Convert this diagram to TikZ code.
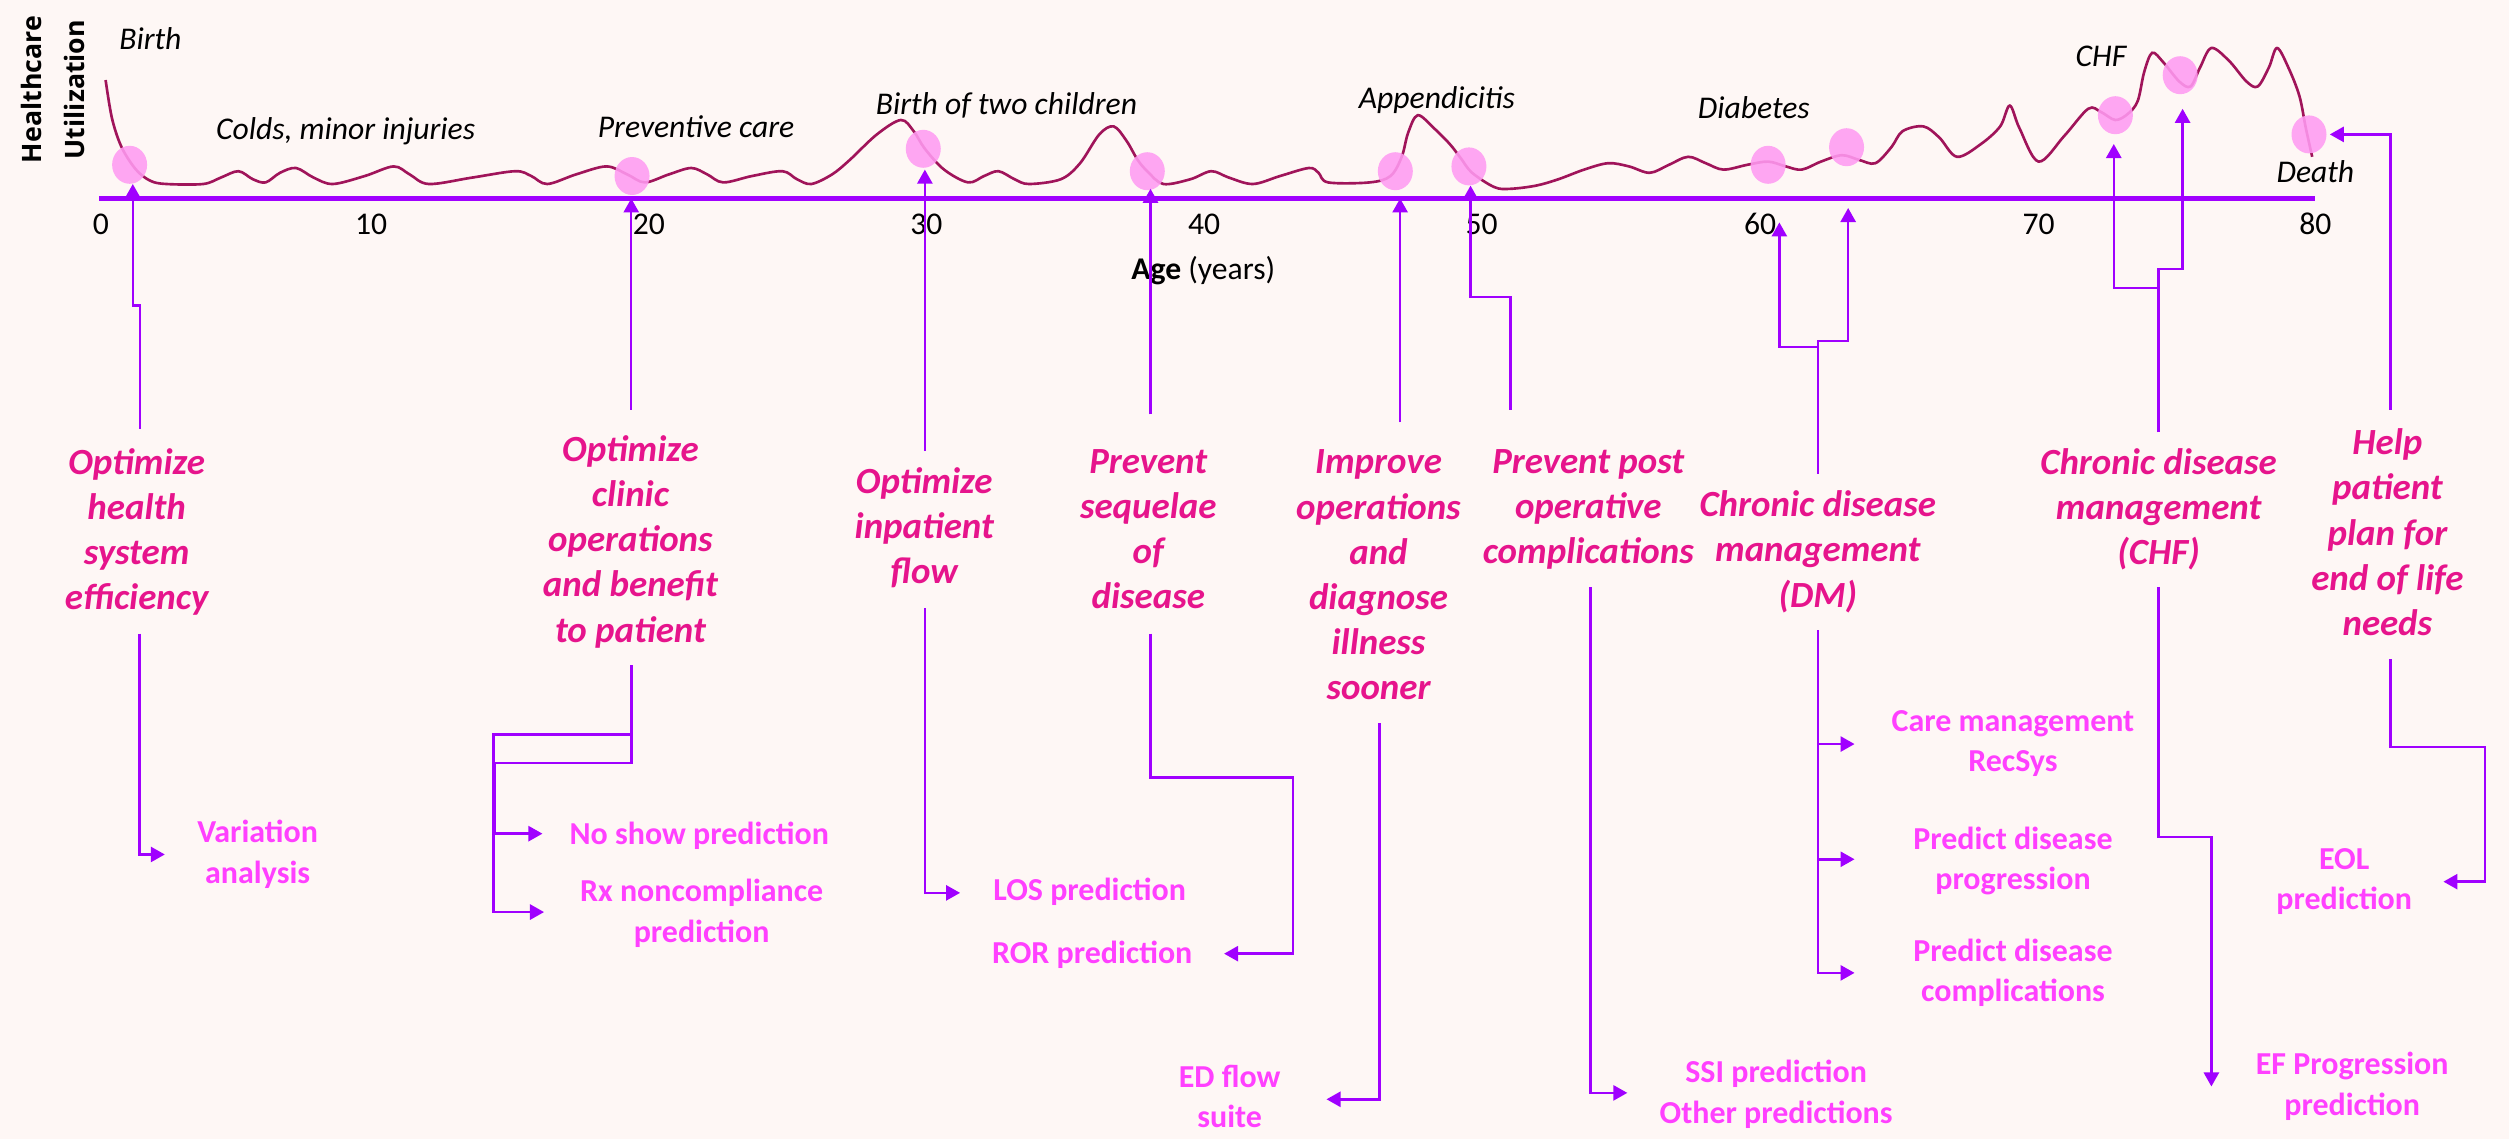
\documentclass[tikz,border=0pt]{standalone}
\usepackage{fontspec}
\setmainfont{Carlito}
\newfontfamily\hufont{Open Sans}
\usetikzlibrary{arrows.meta,shapes.geometric}
\definecolor{bgc}{HTML}{FEF7F5}
\definecolor{purp}{HTML}{A000FF}
\definecolor{mainpink}{HTML}{E6148C}
\definecolor{lightmag}{HTML}{FF40FF}
\definecolor{curvec}{HTML}{A0145A}
\definecolor{dotc}{HTML}{FF9BF2}
\begin{document}
\begin{tikzpicture}[x=0.016cm,y=-0.016cm,
  goal/.style={align=center, text=mainpink, inner sep=0pt,
    font=\fontsize{10.5}{12.85}\selectfont\bfseries\itshape,
    execute at begin node=\strut, execute at end node=\strut},
  tool/.style={align=center, text=lightmag, inner sep=0pt,
    font=\fontsize{9.1}{11.5}\selectfont\bfseries,
    execute at begin node=\strut, execute at end node=\strut},
  event/.style={inner sep=0pt, font=\fontsize{9}{11}\selectfont\itshape},
  tick/.style={inner sep=0pt, font=\fontsize{9}{11}\selectfont},
  conn/.style={draw=purp, line width=0.7pt},
  arr/.style={conn, -{Triangle[width=4.3pt,length=4pt]}},
  dot/.style={ellipse, fill=dotc, fill opacity=0.88, draw=none, inner sep=0pt,
    minimum width=0.35cm, minimum height=0.38cm}
]
\fill[bgc] (0,0) rectangle (1568,712);
\useasboundingbox (0,0) rectangle (1568,712);

% utilization curve
\draw[curvec, line width=0.75pt] plot[smooth, tension=0.55] coordinates {
(66,50) (70,74) (76,92) (85,106) (94,113) (104,115) (127,115) (138,111) (149,107) (158,112) (166,114) (175,108) (185,105) (196,111) (208,115) (228,110) (246,104) (256,109) (268,115) (295,111) (322,107) (332,110) (342,115) (360,109) (379,104) (392,109) (403,114) (418,109) (432,105) (442,109) (452,114) (470,110) (489,107) (498,112) (507,115) (520,109) (531,100) (548,84) (563,75) (571,82) (578,93) (590,106) (605,114) (615,110) (624,107) (634,112) (643,115) (663,112) (675,102) (687,84) (696,79) (704,88) (711,100) (717,107) (727,115) (744,112) (757,107) (768,111) (783,115) (800,110) (818,105) (824,108) (830,114) (856,114) (869,110) (876,98) (880,83) (886,72) (896,80) (906,90) (913,99) (920,108) (934,117) (944,118) (960,116) (974,112) (990,106) (1005,102) (1018,104) (1031,108) (1043,103) (1055,98) (1066,102) (1077,106) (1092,103) (1105,101) (1116,104) (1126,106) (1138,101) (1151,97) (1162,100) (1172,102) (1182,92) (1189,82) (1202,79) (1212,86) (1223,98) (1238,90) (1250,79) (1256,66) (1262,80) (1274,101) (1290,85) (1305,68) (1313,70) (1322,75) (1330,71) (1336,63) (1340,45) (1345,33) (1352,39) (1362,51) (1369,54) (1375,42) (1382,30) (1393,38) (1404,51) (1411,54) (1418,42) (1423,30) (1430,42) (1437,60) (1441,80) (1445,98)};

% highlight dots
\foreach \n/\x/\y in {d1/81/103, d2/395/110, d3/577/93, d4/717/107, d5/872/107, d6/918/104, d7/1105/103, d8/1154/92, d9/1322/72, d10/1362.5/47, d11/1443/84}
  \node[dot] (\n) at (\x,\y) {};

% axis
\coordinate (ax0) at (62,124);
\coordinate (ax80) at (1447,124);
\draw[purp, line width=1.3pt] (ax0) -- (ax80);
\foreach \v/\x in {0/63, 10/232, 20/405.5, 30/579, 40/752.5, 50/926, 60/1100, 70/1274, 80/1447}
  \node[tick] (tk\v) at (\x,140) {\v};
\node[tick] (agel) at (752,169) {\textbf{Age} (years)};
\node[rotate=90, align=center, inner sep=0pt,
  font=\fontsize{7.6}{12.2}\selectfont\hufont\bfseries] (hu) at (33,56) {Healthcare\\Utilization};

% event annotations
\node[event] (e1) at (94,24) {Birth};
\node[event] (e2) at (216,82) {Colds, minor injuries};
\node[event] (e3) at (435,79) {Preventive care};
\node[event] (e4) at (629,66) {Birth of two children};
\node[event] (e5) at (898,62.5) {Appendicitis};
\node[event] (e6) at (1096,67) {Diabetes};
\node[event] (e7) at (1313,35) {CHF};
\node[event] (e8) at (1447,107) {Death};

% goals
\node[goal] (g1) at (85.4,335) {Optimize\\health\\system\\efficiency};
\node[goal] (g2) at (394,341) {Optimize\\clinic\\operations\\and benefit\\to patient};
\node[goal] (g3) at (577.6,332.7) {Optimize\\inpatient\\flow};
\node[goal] (g4) at (717.6,334.8) {Prevent\\sequelae\\of\\disease};
\node[goal] (g5) at (861.5,363.5) {Improve\\operations\\and\\diagnose\\illness\\sooner};
\node[goal] (g6) at (992.6,320.8) {Prevent post\\operative\\complications};
\node[goal] (g7) at (1136,347.3) {Chronic disease\\management\\(DM)};
\node[goal] (g8) at (1349,320.8) {Chronic disease\\management\\(CHF)};
\node[goal] (g9) at (1492,336.8) {Help\\patient\\plan for\\end of life\\needs};

% tools
\node[tool] (s1) at (161,536) {Variation\\analysis};
\node[tool] (s2) at (437,523) {No show prediction};
\node[tool] (s3) at (438.5,573) {Rx noncompliance\\prediction};
\node[tool] (s4) at (681,558) {LOS prediction};
\node[tool] (s5) at (682.6,597) {ROR prediction};
\node[tool] (s6) at (768.5,689) {ED flow\\suite};
\node[tool] (s7) at (1110,686) {SSI prediction\\Other predictions};
\node[tool] (s8) at (1258,467) {Care management\\RecSys};
\node[tool] (s9) at (1258,540) {Predict disease\\progression};
\node[tool] (s10) at (1258,610) {Predict disease\\complications};
\node[tool] (s11) at (1465,553) {EOL\\prediction};
\node[tool] (s12) at (1470,681) {EF Progression\\prediction};

% connector end points
\coordinate (t1) at (83,115);   \coordinate (a1s) at (87.5,268);
\coordinate (b1s) at (87.2,396); \coordinate (u1) at (103,534);
\coordinate (t2) at (394.5,124); \coordinate (a2s) at (394.5,256);
\coordinate (b2s) at (394.6,415.6); \coordinate (u2a) at (339,521); \coordinate (u2b) at (340,570);
\coordinate (t3) at (578,106);  \coordinate (a3s) at (578,282);
\coordinate (b3s) at (578,380); \coordinate (u3) at (600,558);
\coordinate (t4) at (719,118);  \coordinate (a4s) at (719,259);
\coordinate (b4s) at (719,396); \coordinate (u4) at (765,596);
\coordinate (t5) at (875,124);  \coordinate (a5s) at (875,264);
\coordinate (b5s) at (862,452); \coordinate (u5) at (829,687);
\coordinate (t6) at (919,116);  \coordinate (a6s) at (944,256);
\coordinate (b6s) at (994,367); \coordinate (u6) at (1017,683);
\coordinate (t7a) at (1112,139); \coordinate (t7b) at (1155,130); \coordinate (a7s) at (1136,296);
\coordinate (b7s) at (1136,394); \coordinate (u7a) at (1159,465); \coordinate (u7b) at (1159,537); \coordinate (u7c) at (1159,608);
\coordinate (t8a) at (1321,90); \coordinate (t8b) at (1364,68); \coordinate (a8s) at (1349,270);
\coordinate (b8s) at (1349,367); \coordinate (u8) at (1382,679);
\coordinate (t9) at (1456,84);  \coordinate (a9s) at (1494,256);
\coordinate (b9s) at (1494,412); \coordinate (u9) at (1527,551);

% connectors
\draw[arr] (a1s) |- (83,191) -- (t1);
\draw[arr] (b1s) |- (u1);
\draw[arr] (a2s) -- (t2);
\draw[arr] (b2s) |- (308.5,459) |- (u2b);
\draw[arr] (b2s) |- (309.5,477) |- (u2a);
\draw[arr] (a3s) -- (t3);
\draw[arr] (b3s) |- (u3);
\draw[arr] (a4s) -- (t4);
\draw[arr] (b4s) |- (808,486) |- (u4);
\draw[arr] (a5s) -- (t5);
\draw[arr] (b5s) |- (u5);
\draw[arr] (a6s) |- (919,185.6) -- (t6);
\draw[arr] (b6s) |- (u6);
\draw[arr] (a7s) |- (1112,217) -- (t7a);
\draw[arr] (a7s) |- (1155,213) -- (t7b);
\draw[arr] (b7s) |- (u7a);
\draw[arr] (b7s) |- (u7b);
\draw[arr] (b7s) |- (u7c);
\draw[arr] (a8s) |- (1321,180) -- (t8a);
\draw[arr] (a8s) |- (1364,168) -- (t8b);
\draw[arr] (b8s) |- (1382,523) -- (u8);
\draw[arr] (a9s) |- (t9);
\draw[arr] (b9s) |- (1553,467) |- (u9);
\end{tikzpicture}
\end{document}
